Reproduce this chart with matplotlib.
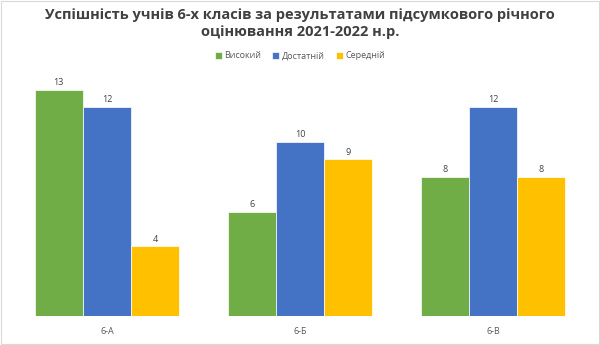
import numpy as np
import matplotlib.pyplot as plt
from matplotlib.patches import Rectangle

plt.rcParams['font.family'] = ['Open Sans', 'DejaVu Sans']

classes = ["6-А", "6-Б", "6-В"]
series = ["Високий", "Достатній", "Середній"]
high = [13, 6, 8]
sufficient = [12, 10, 12]
medium = [4, 9, 8]
colors = ["#70AD47", "#4472C4", "#FFC000"]

fig = plt.figure(figsize=(6, 3.45), dpi=100)
ax = fig.add_axes([0.0175, 0.084, 0.965, 0.706])

x = np.arange(len(classes))
w = 0.25
for i, (vals, name, c) in enumerate(zip([high, sufficient, medium], series, colors)):
    bars = ax.bar(x + (i - 1) * w, vals, w, color=c, label=name,
                  edgecolor="white", linewidth=0.5)
    ax.bar_label(bars, padding=2, fontsize=6.5, color="#404040")

ax.set_xlim(-0.5, 2.5)
ax.set_ylim(0, 14)
ax.set_xticks(x)
ax.set_xticklabels(classes, fontsize=6.5, color="#595959")
ax.tick_params(axis="x", length=0, pad=8)
ax.set_yticks([])
for s in ax.spines.values():
    s.set_visible(False)

fig.text(0.5, 0.978, "Успішність учнів 6-х класів за результатами підсумкового річного\nоцінювання 2021-2022 н.р.",
         ha="center", va="top", fontsize=10.5, fontweight="bold", color="#404040",
         linespacing=1.35)
fig.legend(loc="center", bbox_to_anchor=(0.5, 0.838), ncol=3, frameon=False,
           fontsize=6.5, handlelength=0.8, handleheight=0.8, handletextpad=0.3,
           columnspacing=1.2, labelcolor="#595959")

fig.add_artist(Rectangle((0.002, 0.003), 0.996, 0.994, transform=fig.transFigure,
                         fill=False, edgecolor="#d9d9d9", linewidth=0.8))

plt.savefig("out.png", dpi=100)
